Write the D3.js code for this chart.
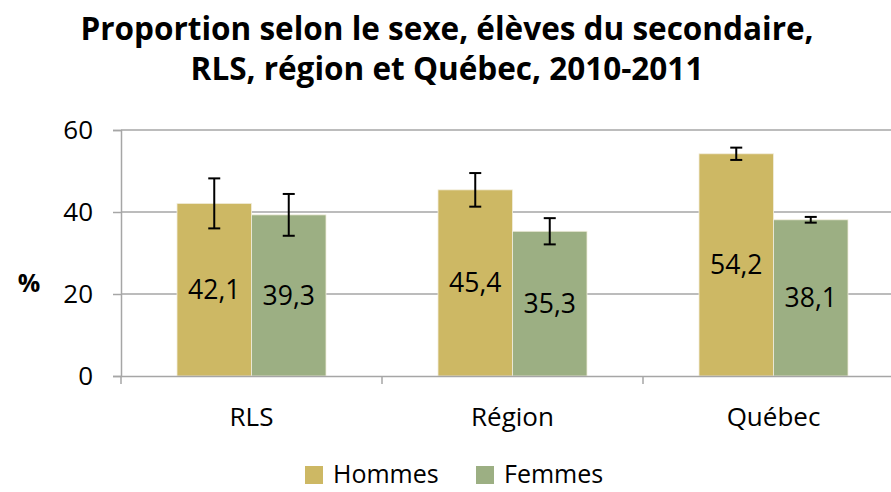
<!DOCTYPE html>
<html>
<head>
<meta charset="utf-8">
<script src="https://cdn.jsdelivr.net/npm/d3@7"></script>
<style>
  body { margin: 0; background: #fff; }
  text { font-family: "Open Sans", "Noto Sans", sans-serif; }
</style>
</head>
<body>
<svg id="chart" width="891" height="492"></svg>
<script>
// data
const categories = ['RLS', 'Région', 'Québec'];
const seriesNames = ['Hommes', 'Femmes'];
const hommes = [42.1, 45.4, 54.2];
const femmes = [39.3, 35.3, 38.1];
const hommesErr = [6.1, 4.1, 1.5];
const femmesErr = [5.1, 3.2, 0.7];
const yTicks = [0, 20, 40, 60];
const titleLines = ['Proportion selon le sexe, élèves du secondaire,', 'RLS, région et Québec, 2010-2011'];

const colors = { Hommes: '#cdb864', Femmes: '#9caf83' };

const svg = d3.select('#chart');
const plot = { left: 121, right: 904, top: 130, bottom: 376 };

const x = d3.scaleBand().domain(categories).range([plot.left, plot.right]).paddingInner(0).paddingOuter(0);
const inner = d3.scaleBand().domain(seriesNames)
  .range([(x.bandwidth() - 149) / 2, (x.bandwidth() + 149) / 2]);
const y = d3.scaleLinear().domain([0, 60]).range([plot.bottom, plot.top]);

// title
svg.append('g').selectAll('text')
  .data(titleLines)
  .enter().append('text')
    .attr('x', 447)
    .attr('y', (d, i) => 40 + i * 40)
    .attr('text-anchor', 'middle')
    .style('font-weight', 'bold')
    .style('font-size', '31.5px')
    .text(d => d);

// grid lines
svg.append('g').selectAll('line')
  .data(yTicks.filter(t => t > 0))
  .enter().append('line')
    .attr('x1', plot.left).attr('x2', plot.right)
    .attr('y1', d => y(d)).attr('y2', d => y(d))
    .attr('stroke', '#a6a6a6').attr('stroke-width', 1.5);

const rows = categories.map((c, i) => ({
  cat: c,
  vals: [
    { s: 'Hommes', v: hommes[i], e: hommesErr[i] },
    { s: 'Femmes', v: femmes[i], e: femmesErr[i] },
  ],
}));

const groups = svg.append('g').selectAll('g')
  .data(rows)
  .enter().append('g')
    .attr('transform', d => `translate(${x(d.cat)},0)`);

const bars = groups.selectAll('g')
  .data(d => d.vals)
  .enter().append('g');

bars.append('rect')
  .attr('x', d => inner(d.s))
  .attr('width', inner.bandwidth())
  .attr('y', d => y(d.v))
  .attr('height', d => y(0) - y(d.v))
  .attr('fill', d => colors[d.s])
  .attr('stroke', '#f2eedd')
  .attr('stroke-width', 0.8);

bars.append('text')
  .attr('x', d => inner(d.s) + inner.bandwidth() / 2)
  .attr('y', d => (y(d.v) + y(0)) / 2 + 9.5)
  .attr('text-anchor', 'middle')
  .style('font-size', '26.5px')
  .text(d => String(d.v).replace('.', ','));

// error bars
const eb = bars.append('g').attr('stroke', '#000').attr('stroke-width', 2);
eb.append('line')
  .attr('x1', d => inner(d.s) + inner.bandwidth() / 2)
  .attr('x2', d => inner(d.s) + inner.bandwidth() / 2)
  .attr('y1', d => y(d.v + d.e)).attr('y2', d => y(d.v - d.e));
[1, -1].forEach(sgn => {
  eb.append('line')
    .attr('x1', d => inner(d.s) + inner.bandwidth() / 2 - 6)
    .attr('x2', d => inner(d.s) + inner.bandwidth() / 2 + 6)
    .attr('y1', d => y(d.v + sgn * d.e)).attr('y2', d => y(d.v + sgn * d.e));
});

// y axis
const yAxis = svg.append('g')
  .attr('transform', `translate(${plot.left},0)`)
  .call(d3.axisLeft(y).tickValues(yTicks).tickSize(8).tickPadding(20));
yAxis.select('.domain').attr('stroke', '#a6a6a6').attr('stroke-width', 1.5);
yAxis.selectAll('.tick line').attr('stroke', '#a6a6a6').attr('stroke-width', 1.5);
yAxis.selectAll('.tick text').style('font-size', '26px').style('font-family', '"Open Sans", sans-serif').attr('fill', '#000');

// x axis
const xAxis = svg.append('g')
  .attr('transform', `translate(0,${plot.bottom})`)
  .call(d3.axisBottom(x).tickSize(0).tickPadding(32));
xAxis.select('.domain').attr('stroke', '#a6a6a6').attr('stroke-width', 1.5);
xAxis.selectAll('.tick text').style('font-size', '26px').style('font-family', '"Open Sans", sans-serif').attr('fill', '#000');
// category boundary ticks
xAxis.selectAll('.bound')
  .data(categories.map(c => x(c)).concat([plot.right]))
  .enter().append('line')
    .attr('x1', d => d).attr('x2', d => d)
    .attr('y1', 0).attr('y2', 8)
    .attr('stroke', '#a6a6a6').attr('stroke-width', 1.5);

// % label
svg.append('text')
  .attr('x', 29).attr('y', 292)
  .attr('text-anchor', 'middle')
  .style('font-weight', 'bold')
  .style('font-size', '25px')
  .text('%');

// legend
const legend = svg.append('g').selectAll('g')
  .data(seriesNames)
  .enter().append('g')
    .attr('transform', (d, i) => `translate(${[305, 476][i]},466)`);
legend.append('rect').attr('width', 18).attr('height', 18).attr('fill', d => colors[d]);
legend.append('text')
  .attr('x', 28).attr('y', 17)
  .style('font-size', '25px')
  .text(d => d);
</script>
</body>
</html>
